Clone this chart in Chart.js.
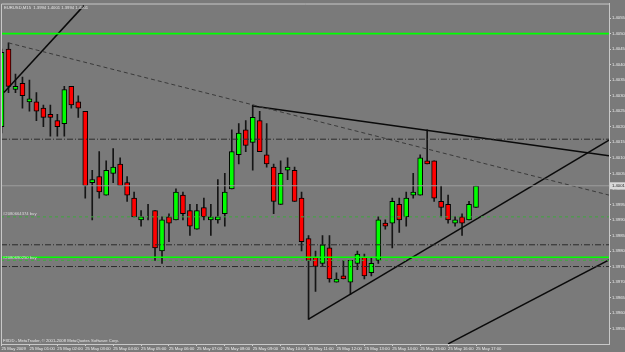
<!DOCTYPE html>
<html>
<head>
<meta charset="utf-8">
<title>EURUSD,M15</title>
<script src="https://cdn.jsdelivr.net/npm/chart.js@4.4.1/dist/chart.umd.min.js"></script>
<style>
    html, body { margin: 0; padding: 0; background: #7a7a7a; overflow: hidden; }
    #wrap { width: 625px; height: 352px; }
</style>
</head>
<body>
<div id="wrap"><canvas id="mtChart" width="625" height="352"></canvas></div>
<script>
// Chart texts
const symbolTitle = 'EURUSD,M15  1.3994 1.4001 1.3994 1.4001';
const footerText = 'FXDD - MetaTrader, \u00a9 2001-2008 MetaQuotes Software Corp.';

// 15 minute bars of 25 May 2009
const barTimes = [
    '00:00', '00:15', '00:30', '00:45', '01:00', '01:15', '01:30', '01:45',
    '02:00', '02:15', '02:30', '02:45', '03:00', '03:15', '03:30', '03:45',
    '04:00', '04:15', '04:30', '04:45', '05:00', '05:15', '05:30', '05:45',
    '06:00', '06:15', '06:30', '06:45', '07:00', '07:15', '07:30', '07:45',
    '08:00', '08:15', '08:30', '08:45', '09:00', '09:15', '09:30', '09:45',
    '10:00', '10:15', '10:30', '10:45', '11:00', '11:15', '11:30', '11:45',
    '12:00', '12:15', '12:30', '12:45', '13:00', '13:15', '13:30', '13:45',
    '14:00', '14:15', '14:30', '14:45', '15:00', '15:15', '15:30', '15:45',
    '16:00', '16:15', '16:30', '16:45', '17:00'
];
const opens = [
    1.4020, 1.4045, 1.4032, 1.4034, 1.4028, 1.4028, 1.4026, 1.4024,
    1.4022, 1.4021, 1.4033, 1.4028, 1.4025, 1.4002, 1.4004, 1.3998,
    1.4005, 1.4008, 1.4002, 1.3997, 1.3990, 1.3992, 1.3993, 1.3980,
    1.3991, 1.3990, 1.3998, 1.3993, 1.3987, 1.3994, 1.3990, 1.3990,
    1.3992, 1.4000, 1.4011, 1.4019, 1.4015, 1.4022, 1.4011, 1.4007,
    1.3995, 1.4006, 1.4006, 1.3997, 1.3984, 1.3978, 1.3976, 1.3981,
    1.3970, 1.3972, 1.3970, 1.3976, 1.3978, 1.3973, 1.3977, 1.3989,
    1.3989, 1.3995, 1.3991, 1.3998, 1.3998, 1.4009, 1.4009, 1.3996,
    1.3995, 1.3989, 1.3991, 1.3990, 1.3994
];
const highs = [
    1.4045, 1.4047, 1.4037, 1.4036, 1.4035, 1.4031, 1.4027, 1.4027,
    1.4024, 1.4033, 1.4033, 1.4030, 1.4025, 1.4006, 1.4012, 1.4009,
    1.4013, 1.4010, 1.4004, 1.3999, 1.3993, 1.3995, 1.3993, 1.3991,
    1.3992, 1.4000, 1.3999, 1.3995, 1.3995, 1.3997, 1.3995, 1.4003,
    1.4005, 1.4019, 1.4021, 1.4022, 1.4027, 1.4025, 1.4021, 1.4008,
    1.4009, 1.4010, 1.4007, 1.3999, 1.3985, 1.3980, 1.3985, 1.3985,
    1.3973, 1.3977, 1.3977, 1.3980, 1.3979, 1.3978, 1.3991, 1.3990,
    1.3997, 1.3997, 1.3999, 1.4005, 1.4011, 1.4019, 1.4009, 1.4001,
    1.3998, 1.3991, 1.3992, 1.3996, 1.4001
];
const lows = [
    1.4018, 1.4031, 1.4031, 1.4026, 1.4025, 1.4022, 1.4020, 1.4017,
    1.4017, 1.4017, 1.4026, 1.4023, 1.3997, 1.3990, 1.3997, 1.3998,
    1.4002, 1.4001, 1.3996, 1.3991, 1.3988, 1.3990, 1.3977, 1.3976,
    1.3983, 1.3990, 1.3990, 1.3985, 1.3987, 1.3990, 1.3985, 1.3989,
    1.3988, 1.4000, 1.4008, 1.4012, 1.4006, 1.4012, 1.4007, 1.3992,
    1.3995, 1.4003, 1.3996, 1.3980, 1.3958, 1.3967, 1.3975, 1.3970,
    1.3970, 1.3971, 1.3966, 1.3974, 1.3971, 1.3972, 1.3976, 1.3987,
    1.3981, 1.3986, 1.3988, 1.3997, 1.3998, 1.4008, 1.3996, 1.3991,
    1.3989, 1.3988, 1.3985, 1.3990, 1.3994
];
const closes = [
    1.4044, 1.4033, 1.4033, 1.4030, 1.4029, 1.4025, 1.4023, 1.4023,
    1.4020, 1.4032, 1.4027, 1.4026, 1.4001, 1.4003, 1.3999, 1.4006,
    1.4007, 1.4001, 1.3998, 1.3991, 1.3991, 1.3992, 1.3981, 1.3990,
    1.3989, 1.3999, 1.3992, 1.3988, 1.3993, 1.3991, 1.3991, 1.3991,
    1.3999, 1.4012, 1.4018, 1.4014, 1.4023, 1.4012, 1.4008, 1.3996,
    1.4005, 1.4007, 1.3996, 1.3983, 1.3977, 1.3975, 1.3982, 1.3971,
    1.3971, 1.3971, 1.3977, 1.3979, 1.3972, 1.3976, 1.3990, 1.3988,
    1.3996, 1.3990, 1.3997, 1.3999, 1.4010, 1.4008, 1.3997, 1.3994,
    1.3990, 1.3990, 1.3989, 1.3995, 1.4001
];

// time axis labels (one per hour = every 4 bars)
const hourTickBars = [0, 4, 8, 12, 16, 20, 24, 28, 32, 36, 40, 44, 48, 52, 56, 60, 64, 68];
const hourTickLabels = [
    '25 May 2009', '25 May 01:00', '25 May 02:00', '25 May 03:00', '25 May 04:00',
    '25 May 05:00', '25 May 06:00', '25 May 07:00', '25 May 08:00', '25 May 09:00',
    '25 May 10:00', '25 May 11:00', '25 May 12:00', '25 May 13:00', '25 May 14:00',
    '25 May 15:00', '25 May 16:00', '25 May 17:00'
];

// price levels drawn on the chart
const bidPrice = 1.4001;
const greenLevels = [1.4050, 1.3978];
const orderLevels = [1.3991, 1.3977];
const orderLabels = ['#2080664374 buy', '#2080690250 buy'];
const dashDotLevels = [1.4016, 1.3982, 1.3975];

// trendlines as [bar, price] pairs
const solidTrends = [
    [[0.35, 1.4031], [11.8, 1.4059]],
    [[36, 1.40267], [87.06, 1.40107]],
    [[44, 1.39581], [87.06, 1.40157]],
    [[64, 1.39501], [87.06, 1.39771]]
];
const dashedTrend = [[1, 1.4047], [87.06, 1.3998]];

// visible range
const xMin = -0.075, xMax = 87.06;
const yMin = 1.395006, yMax = 1.405968;

const BG = '#7a7a7a';
const AXIS_TEXT = '#ededed';
const TINY_FONT = { family: 'Liberation Sans', size: 4.2 };

function hLine(level, color, width, dash) {
    return {
        type: 'line',
        data: [{ x: xMin, y: level }, { x: xMax, y: level }],
        borderColor: color, borderWidth: width, borderDash: dash || [],
        pointRadius: 0, fill: false, tension: 0, order: 0
    };
}

function trendLine(points, color, width, dash) {
    return {
        type: 'line',
        data: points.map(p => ({ x: p[0], y: p[1] })),
        borderColor: color, borderWidth: width, borderDash: dash || [],
        pointRadius: 0, fill: false, tension: 0, order: 0
    };
}

// candles: thin wick bar + body bar on top
const wickData = barTimes.map((t, i) => ({ x: i, y: [lows[i], highs[i]] }));
const bodyData = barTimes.map((t, i) => ({ x: i, y: [Math.min(opens[i], closes[i]), Math.max(opens[i], closes[i])] }));
const bodyColors = barTimes.map((t, i) => closes[i] > opens[i] ? '#00ff00' : (closes[i] < opens[i] ? '#ff0000' : 'rgba(0,0,0,0)'));

const datasets = [
    { type: 'bar', label: 'wick', data: wickData, backgroundColor: '#151515', borderWidth: 0,
      barThickness: 1, grouped: false, order: 3 },
    { type: 'bar', label: 'body', data: bodyData, backgroundColor: bodyColors, borderColor: '#000000',
      borderWidth: 1, borderSkipped: false, barThickness: 5, grouped: false, order: 2 },
    hLine(bidPrice, '#9c9c9c', 1),
    ...dashDotLevels.map(l => hLine(l, '#2a2a2a', 1, [6, 2, 1, 2])),
    ...orderLevels.map(l => hLine(l, '#3fa83f', 1, [3, 3])),
    ...greenLevels.map(l => hLine(l, '#00ff00', 1.6)),
    trendLine(dashedTrend, '#3a3a3a', 1, [4, 3]),
    ...solidTrends.map(t => trendLine(t, '#0a0a0a', 1.5))
];

// background, frame and MetaTrader texts
const mtOverlay = {
    id: 'mtOverlay',
    beforeDraw(chart) {
        const ctx = chart.ctx;
        ctx.save();
        ctx.fillStyle = BG;
        ctx.fillRect(0, 0, chart.width, chart.height);
        ctx.restore();
    },
    afterDraw(chart) {
        const ctx = chart.ctx;
        const area = chart.chartArea;
        const y = chart.scales.y;
        ctx.save();
        // top and left frame
        ctx.strokeStyle = '#c8c8c8';
        ctx.lineWidth = 1;
        ctx.beginPath();
        ctx.moveTo(area.left + 0.5, area.bottom);
        ctx.lineTo(area.left + 0.5, area.top + 0.5);
        ctx.lineTo(area.right, area.top + 0.5);
        ctx.stroke();

        ctx.font = TINY_FONT.size + 'px ' + TINY_FONT.family;
        ctx.fillStyle = '#e6e6e6';
        ctx.textBaseline = 'top';
        ctx.textAlign = 'left';
        ctx.fillText(symbolTitle, area.left + 3, area.top + 2);

        ctx.textBaseline = 'bottom';
        ctx.fillText(footerText, area.left + 2, area.bottom - 1);

        // order labels just above their lines
        ctx.fillStyle = '#dcdcdc';
        orderLevels.forEach((l, i) => {
            ctx.fillText(orderLabels[i], area.left + 2, y.getPixelForValue(l) - 0.5);
        });

        // current bid box on the price axis
        const by = y.getPixelForValue(bidPrice);
        ctx.fillStyle = '#d9d9d9';
        ctx.fillRect(area.right + 1, by - 3.5, chart.width - area.right - 1, 7);
        ctx.fillStyle = '#1e1e1e';
        ctx.textBaseline = 'middle';
        ctx.fillText(bidPrice.toFixed(4), area.right + 3, by);
        ctx.restore();
    }
};

new Chart(document.getElementById('mtChart'), {
    type: 'bar',
    data: { datasets: datasets },
    options: {
        responsive: false,
        animation: false,
        layout: { padding: { left: 1, top: 2, right: 0, bottom: 0 } },
        scales: {
            x: {
                type: 'linear',
                min: xMin,
                max: xMax,
                offset: false,
                afterFit: (scale) => { scale.height = 8; },
                afterBuildTicks: (scale) => { scale.ticks = hourTickBars.map(v => ({ value: v })); },
                grid: { display: true, drawOnChartArea: false, drawTicks: true, tickLength: 2, color: '#cfcfcf', offset: false },
                border: { display: true, color: '#c8c8c8' },
                ticks: {
                    autoSkip: false,
                    maxRotation: 0,
                    align: 'start',
                    padding: 0,
                    color: AXIS_TEXT,
                    font: TINY_FONT,
                    callback: (value, index) => hourTickLabels[index]
                }
            },
            y: {
                position: 'right',
                min: yMin,
                max: yMax,
                afterFit: (scale) => { scale.width = 16; },
                grid: { drawOnChartArea: false, drawTicks: true, tickLength: 2, color: '#cfcfcf' },
                border: { display: true, color: '#c8c8c8' },
                ticks: {
                    stepSize: 0.0005,
                    includeBounds: false,
                    padding: 1,
                    color: AXIS_TEXT,
                    font: TINY_FONT,
                    callback: (value) => value.toFixed(4)
                }
            }
        },
        plugins: {
            legend: { display: false },
            tooltip: { enabled: false },
            title: { display: false }
        }
    },
    plugins: [mtOverlay]
});
</script>
</body>
</html>
